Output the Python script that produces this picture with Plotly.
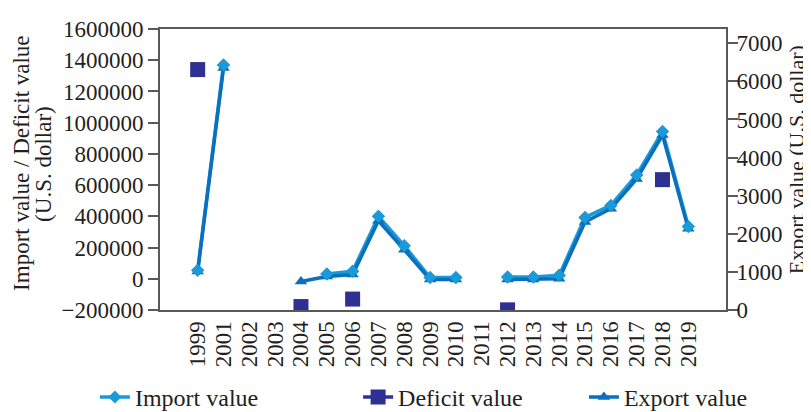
import plotly.graph_objects as go

years = ["1999", "2001", "2002", "2003", "2004", "2005", "2006", "2007", "2008", "2009",
         "2010", "2011", "2012", "2013", "2014", "2015", "2016", "2017", "2018", "2019"]
import_value = [55000, 1370000, None, None, None, 30000, 48000, 400000, 212000, 8000,
                8000, None, 12000, 12000, 22000, 393000, 470000, 665000, 943000, 335000]
deficit_value = [1340000, None, None, None, -178000, None, -130000, None, None, None,
                 None, None, -199000, None, None, None, None, None, 635000, None]
export_value = [1010, 6350, None, None, 750, 880, 930, 2340, 1580, 800,
                800, None, 800, 800, 820, 2310, 2660, 3440, 4590, 2130]

FONT = "Liberation Serif"
TXT = "#231f20"
AX = "#595959"
C_IMP = "#1a9ad8"
C_EXP = "#0a6fbd"
C_DEF = "#2e3192"

fig = go.Figure()
fig.add_trace(go.Scatter(
    x=years, y=import_value, name="Import value", mode="lines+markers",
    line=dict(color=C_IMP, width=3.5),
    marker=dict(symbol="diamond", size=10, color=C_IMP),
    yaxis="y", legend="legend"))
fig.add_trace(go.Scatter(
    x=years, y=deficit_value, name="Deficit value", mode="lines+markers",
    line=dict(color=C_DEF, width=3.5),
    marker=dict(symbol="square", size=15, color=C_DEF),
    yaxis="y", legend="legend2"))
fig.add_trace(go.Scatter(
    x=years, y=export_value, name="Export value", mode="lines+markers",
    line=dict(color=C_EXP, width=3.5),
    marker=dict(symbol="triangle-up", size=11, color=C_EXP),
    yaxis="y2", legend="legend3"))
fig.add_trace(go.Scatter(
    x=years, y=import_value, name="Import value", mode="markers",
    marker=dict(symbol="diamond", size=10, color=C_IMP),
    yaxis="y3", showlegend=False))

tickfont = dict(family=FONT, size=23, color=TXT)
titlefont = dict(family=FONT, size=23, color=TXT)


def leg(xpos):
    return dict(orientation="h", x=xpos, xanchor="left", y=-0.391, yanchor="bottom",
                font=dict(family=FONT, size=24, color=TXT), itemwidth=30,
                bgcolor="rgba(0,0,0,0)")


fig.update_layout(
    width=811, height=412,
    margin=dict(l=152, r=93, t=21, b=110, autoexpand=False),
    paper_bgcolor="white", plot_bgcolor="white",
    font=dict(family=FONT, color=TXT),
    showlegend=True,
    legend=leg(-0.115),
    legend2=leg(0.350),
    legend3=leg(0.749),
    xaxis=dict(type="category", categoryorder="array", categoryarray=years,
               tickmode="array", tickvals=years, ticktext=years,
               tickangle=-90, tickfont=dict(family=FONT, size=23, color=TXT),
               showline=True, linecolor=AX, automargin=False,
               linewidth=2, mirror=True, ticks="", showgrid=False, zeroline=False),
    yaxis=dict(range=[-200000, 1600000], dtick=200000, tickformat="d",
               tickfont=tickfont, showline=True, linecolor=AX, linewidth=2,
               ticks="outside", ticklen=10, tickwidth=2, tickcolor=AX,
               showgrid=False, zeroline=False, automargin=False),
    yaxis2=dict(range=[0, 7375], tick0=0, dtick=1000, tickformat="d", overlaying="y",
                side="right", tickfont=tickfont, showline=True, linecolor=AX,
                linewidth=2, ticks="outside", ticklen=10, tickwidth=2, tickcolor=AX,
                ticklabelstandoff=-6,
                showgrid=False, zeroline=False, automargin=False),
    yaxis3=dict(range=[-200000, 1600000], overlaying="y", visible=False,
                showgrid=False, zeroline=False),
    annotations=[
        dict(text="Import value / Deficit value", xref="paper", yref="paper",
             x=0, y=0.52, xshift=-138, xanchor="center", yanchor="middle",
             textangle=-90, showarrow=False, font=titlefont),
        dict(text="(U.S. dollar)", xref="paper", yref="paper",
             x=0, y=0.52, xshift=-116, xanchor="center", yanchor="middle",
             textangle=-90, showarrow=False, font=titlefont),
        dict(text="Export value (U.S. dollar)", xref="paper", yref="paper",
             x=1, y=0.533, xshift=70, xanchor="center", yanchor="middle",
             textangle=-90, showarrow=False, font=dict(family=FONT, size=22, color=TXT)),
    ],
)

fig.write_html("out.html")
